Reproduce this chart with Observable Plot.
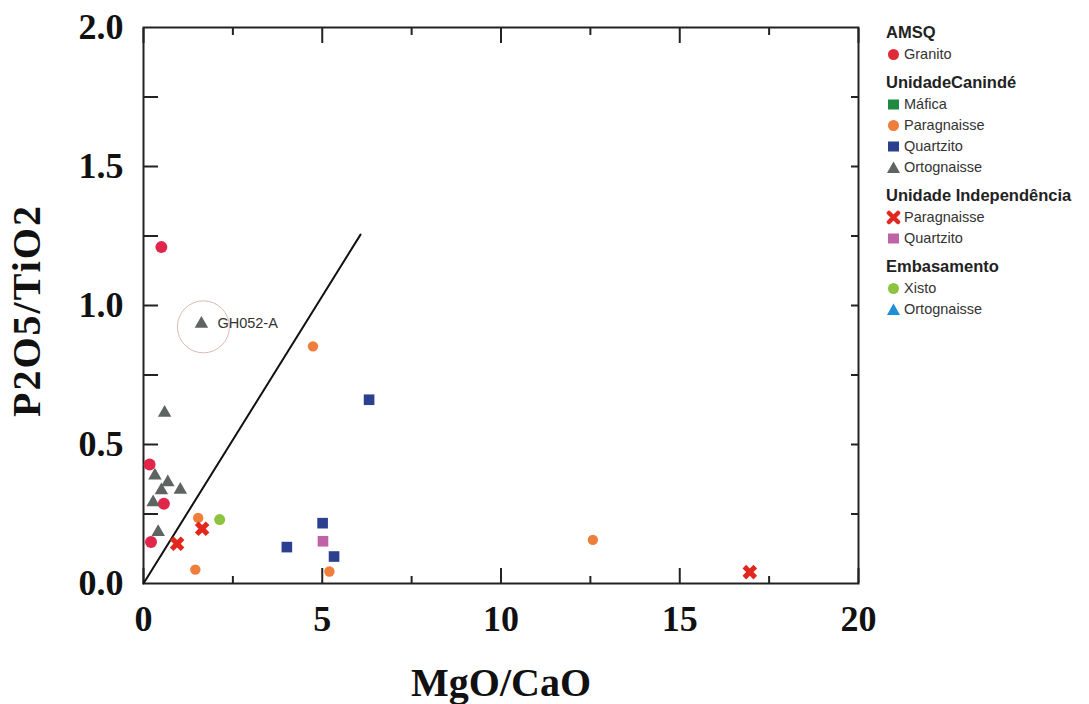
<!DOCTYPE html>
<html>
<head>
<meta charset="utf-8">
<script src="https://cdn.jsdelivr.net/npm/d3@7"></script>
<script src="https://cdn.jsdelivr.net/npm/@observablehq/plot@0.6"></script>
<style>
  html, body { margin: 0; padding: 0; background: #fff; }
  #wrap { position: relative; width: 1089px; height: 704px; overflow: hidden; }
  #chart { position: absolute; left: 0; top: 0; }
  #legend { position: absolute; left: 886px; top: 20px; font-family: "Liberation Sans", Arial, sans-serif; color: #222; }
  #legend .title { font-weight: bold; font-size: 16.5px; line-height: 24px; height: 24px; margin-top: 5px; white-space: nowrap; }
  #legend .title:first-child { margin-top: 0; }
  #legend .item { font-size: 14.5px; line-height: 21px; height: 21px; display: flex; align-items: center; white-space: nowrap; color: #333; }
  #legend .item svg { width: 15px; height: 15px; margin-right: 3px; flex: none; }
</style>
</head>
<body>
<div id="wrap">
  <div id="chart"></div>
  <div id="legend"></div>
</div>
<script>
// ---- data (MgO/CaO, P2O5/TiO2) ----
const amsqGranito = [[0.50, 1.21], [0.17, 0.428], [0.57, 0.287], [0.21, 0.149]];
const caninMafica = [];
const caninParagnaisse = [[1.53, 0.236], [1.45, 0.05], [4.74, 0.853], [5.20, 0.043], [12.57, 0.157]];
const caninQuartzito = [[4.01, 0.131], [5.01, 0.217], [5.33, 0.097], [6.31, 0.661]];
const caninOrtognaisse = [[1.62, 0.934], [0.59, 0.614], [0.32, 0.388], [0.68, 0.364], [0.50, 0.335], [1.03, 0.337], [0.27, 0.292], [0.41, 0.185]];
const indepParagnaisse = [[0.94, 0.143], [1.64, 0.197], [16.96, 0.041]];
const indepQuartzito = [[5.02, 0.152]];
const embXisto = [[2.13, 0.230]];
const embOrtognaisse = [];

const dividerLine = [[0, 0], [6.07, 1.255]];
const highlighted = [[1.62, 0.934, "GH052-A"]];

const xTicksMajor = [0, 5, 10, 15, 20];
const xTicksMinor = [2.5, 7.5, 12.5, 17.5];
const yTicksMajor = [0, 0.5, 1.0, 1.5, 2.0];
const yTicksAll = [0.25, 0.5, 0.75, 1.0, 1.25, 1.5, 1.75];

const xTitle = "MgO/CaO";
const yTitle = "P2O5/TiO2";

// legend content
const legendGroups = [
  {title: "AMSQ", items: [["Granito", "circle", "#e02a36"]]},
  {title: "UnidadeCanindé", items: [["Máfica", "square", "#1f8a3f"], ["Paragnaisse", "circle", "#ef7d3b"], ["Quartzito", "square", "#2b4190"], ["Ortognaisse", "triangle", "#5d6462"]]},
  {title: "Unidade Independência", items: [["Paragnaisse", "x", "#e3261e"], ["Quartzito", "square", "#c062a6"]]},
  {title: "Embasamento", items: [["Xisto", "circle", "#8cc43f"], ["Ortognaisse", "triangle", "#1e8fd6"]]}
];

const X = d => d[0], Y = d => d[1];
const tickStyle = {stroke: "#222", strokeWidth: 2, tickFormat: () => "", label: null};
const labelStyle = {tickSize: 0, fontSize: 36, fontWeight: "bold", fill: "#111", label: null};

const chart = Plot.plot({
  width: 880,
  height: 704,
  marginLeft: 143,
  marginRight: 22,
  marginTop: 27,
  marginBottom: 121,
  x: {domain: [0, 20]},
  y: {domain: [0, 2]},
  style: {background: "white", fontFamily: "'Liberation Serif', 'Times New Roman', serif", overflow: "visible"},
  marks: [
    // inward ticks
    Plot.axisX(xTicksMajor, {anchor: "bottom", tickSize: 15, dy: -15, ...tickStyle}),
    Plot.axisX(xTicksMinor, {anchor: "bottom", tickSize: 7, dy: -7, ...tickStyle}),
    Plot.axisX(xTicksMajor, {anchor: "top", tickSize: 15, dy: 15, ...tickStyle}),
    Plot.axisX(xTicksMinor, {anchor: "top", tickSize: 7, dy: 7, ...tickStyle}),
    Plot.axisY(yTicksAll, {anchor: "left", tickSize: 15, dx: 15, ...tickStyle}),
    Plot.axisY(yTicksAll, {anchor: "right", tickSize: 8, dx: -8, ...tickStyle}),
    // tick labels
    Plot.axisX(xTicksMajor, {anchor: "bottom", tickPadding: 22, tickFormat: d3.format("d"), ...labelStyle}),
    Plot.axisY(yTicksMajor, {anchor: "left", tickPadding: 20, tickFormat: d3.format(".1f"), ...labelStyle}),
    Plot.frame({stroke: "#222", strokeWidth: 2}),
    // divider line
    Plot.line(dividerLine, {x: X, y: Y, stroke: "#111", strokeWidth: 2}),
    // data
    Plot.dot(amsqGranito, {x: X, y: Y, r: 6, fill: "#e0264a", symbol: "circle"}),
    Plot.dot(caninMafica, {x: X, y: Y, r: 6, fill: "#1f8a3f", symbol: "square"}),
    Plot.dot(caninParagnaisse, {x: X, y: Y, r: 5.2, fill: "#ef7d3b", symbol: "circle"}),
    Plot.dot(caninQuartzito, {x: X, y: Y, r: 6, fill: "#2b4190", symbol: "square"}),
    Plot.dot(caninOrtognaisse, {x: X, y: Y, r: 5, fill: "#5d6462", symbol: "triangle"}),
    Plot.dot(indepParagnaisse, {x: X, y: Y, r: 6.5, fill: "#e3261e", symbol: "cross", rotate: 45}),
    Plot.dot(indepQuartzito, {x: X, y: Y, r: 6, fill: "#c062a6", symbol: "square"}),
    Plot.dot(embXisto, {x: X, y: Y, r: 5.5, fill: "#8cc43f", symbol: "circle"}),
    Plot.dot(embOrtognaisse, {x: X, y: Y, r: 5, fill: "#1e8fd6", symbol: "triangle"}),
    // highlight
    Plot.dot(highlighted, {x: X, y: Y, r: 26, dx: 2, dy: 3, fill: "none", stroke: "#dcbab3", strokeWidth: 1}),
    Plot.text(highlighted, {x: X, y: Y, text: d => d[2], dx: 16, textAnchor: "start", fontSize: 14.5, fill: "#333", fontFamily: "'Liberation Sans', Arial, sans-serif"}),
    // axis titles
    Plot.text([xTitle], {frameAnchor: "bottom", textAnchor: "middle", lineAnchor: "middle", dy: 100, fontSize: 40, fontWeight: "bold", fill: "#111"}),
    Plot.text([yTitle], {frameAnchor: "left", textAnchor: "middle", lineAnchor: "middle", dx: -116, dy: 5, rotate: -90, fontSize: 40, fontWeight: "bold", fill: "#111"})
  ]
});
document.getElementById("chart").appendChild(chart);
d3.select(chart).selectAll("text").filter(function() { return this.textContent === yTitle; }).style("letter-spacing", "2px");

// legend
function markerSvg(shape, color) {
  let inner = "";
  if (shape === "circle") inner = `<circle cx="7.5" cy="7.5" r="5.5" fill="${color}"/>`;
  else if (shape === "square") inner = `<rect x="2" y="2.5" width="11" height="10" fill="${color}"/>`;
  else if (shape === "triangle") inner = `<path d="M7.5 1.5 L14 13 L1 13 Z" fill="${color}"/>`;
  else if (shape === "x") inner = `<path d="M3 3 L12 12 M12 3 L3 12" stroke="${color}" stroke-width="4.5" stroke-linecap="round"/>`;
  return `<svg viewBox="0 0 15 15">${inner}</svg>`;
}
const legend = d3.select("#legend");
for (const g of legendGroups) {
  legend.append("div").attr("class", "title").text(g.title);
  for (const [label, shape, color] of g.items) {
    const row = legend.append("div").attr("class", "item");
    row.html(markerSvg(shape, color));
    row.append("span").text(label);
  }
}
</script>
</body>
</html>
